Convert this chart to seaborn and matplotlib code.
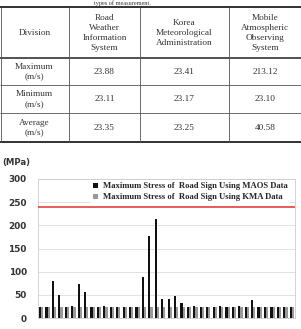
import matplotlib
matplotlib.use("Agg")
import matplotlib.pyplot as plt
import seaborn as sns
import pandas as pd

# ------------------------------
# Data
# ------------------------------
table_columns = ["Division",
                 "Road\nWeather\nInformation\nSystem",
                 "Korea\nMeteorological\nAdministration",
                 "Mobile\nAtmospheric\nObserving\nSystem"]
table_rows = ["Maximum\n(m/s)", "Minimum\n(m/s)", "Average\n(m/s)"]
rwis_values = ["23.88", "23.11", "23.35"]
kma_values = ["23.41", "23.17", "23.25"]
maos_values = ["213.12", "23.10", "40.58"]

sign_ids = list(range(1, 41))
stress_maos = [23, 23, 80, 49, 23, 25, 73, 57, 23, 23,
               26, 23, 23, 23, 23, 23, 88, 178, 213, 40,
               42, 48, 33, 23, 26, 23, 23, 23, 25, 23,
               23, 25, 23, 38, 23, 23, 24, 23, 23, 23]
stress_kma = [23, 23, 23, 23, 23, 23, 23, 23, 23, 23,
              23, 23, 23, 23, 23, 23, 23, 23, 23, 23,
              23, 23, 23, 23, 23, 23, 23, 23, 23, 23,
              23, 23, 23, 23, 23, 23, 23, 23, 23, 23]
allowable_stress = 240
label_maos = "Maximum Stress of  Road Sign Using MAOS Data"
label_kma = "Maximum Stress of  Road Sign Using KMA Data"

df = pd.DataFrame({
    "sign": sign_ids * 2,
    "stress": stress_maos + stress_kma,
    "series": [label_maos] * len(sign_ids) + [label_kma] * len(sign_ids),
})

sns.set_style("white")
plt.rcParams["font.family"] = ["DejaVu Sans"]

fig = plt.figure(figsize=(3.01, 3.29), dpi=100)

# ------------------------------
# Table (drawn in pixel coordinates)
# ------------------------------
ax_t = fig.add_axes([0, 0, 1, 1])
ax_t.set_xlim(0, 301)
ax_t.set_ylim(329, 0)
ax_t.axis("off")

serif = "Liberation Serif"
ax_t.text(122, 0.5, "types of measurement.", ha="center", va="top",
          fontsize=4.5, family=serif, color="#333333")

ax_t.hlines([7, 142], 0, 301, color="#222222", lw=1.3)
ax_t.hlines([58], 0, 301, color="#222222", lw=1.1)
ax_t.hlines([85, 113], 0, 301, color="#555555", lw=0.6)
ax_t.vlines([0.5, 69, 140, 229], 7, 142, color="#555555", lw=0.6)

col_x = [34.5, 104.5, 184.5, 265]
for x, txt in zip(col_x, table_columns):
    ax_t.text(x, 33, txt, ha="center", va="center", fontsize=6.7,
              family=serif, linespacing=1.3, color="#333333")

row_y = [71.5, 99, 127.5]
for i, y in enumerate(row_y):
    ax_t.text(col_x[0], y, table_rows[i], ha="center", va="center",
              fontsize=6.7, family=serif, linespacing=1.25, color="#333333")
    for x, val in zip(col_x[1:], [rwis_values[i], kma_values[i], maos_values[i]]):
        ax_t.text(x, y, val, ha="center", va="center", fontsize=6.7,
                  family=serif, color="#333333")

ax_t.text(2, 162, "(MPa)", ha="left", va="center", fontsize=6.2,
          fontweight="bold", color="#333333")

# ------------------------------
# Bar chart
# ------------------------------
ax = fig.add_axes([38 / 301, 1 - 318 / 329, (295 - 38) / 301, (318 - 179) / 329])
sns.barplot(data=df, x="sign", y="stress", hue="series", dodge=True, width=0.68,
            palette={label_maos: "#111111", label_kma: "#999999"},
            linewidth=0, ax=ax)

ax.axhline(allowable_stress, color="#e0302a", lw=1.1, zorder=3)
ax.set_ylim(0, 300)
ax.set_xlim(-0.5, 39.5)
ax.set_yticks(range(0, 301, 50))
ax.set_xticks([])
ax.set_xlabel("")
ax.set_ylabel("")
ax.yaxis.grid(True, color="#dddddd", lw=0.6)
ax.set_axisbelow(True)
ax.tick_params(axis="y", length=0, pad=8, labelsize=6.4, labelcolor="#333333")
for lab in ax.get_yticklabels():
    lab.set_fontweight("bold")
for sp in ax.spines.values():
    sp.set_color("#cccccc")
    sp.set_linewidth(0.6)

leg = ax.legend(loc="upper right", bbox_to_anchor=(0.985, 1.0), frameon=True,
                facecolor="white", edgecolor="none", framealpha=1,
                handlelength=0.55, handleheight=0.55, handletextpad=0.6,
                labelspacing=0.35, borderpad=0.3, borderaxespad=0.1,
                prop={"family": serif, "weight": "bold", "size": 6.2})

fig.savefig("out.png", dpi=100)
